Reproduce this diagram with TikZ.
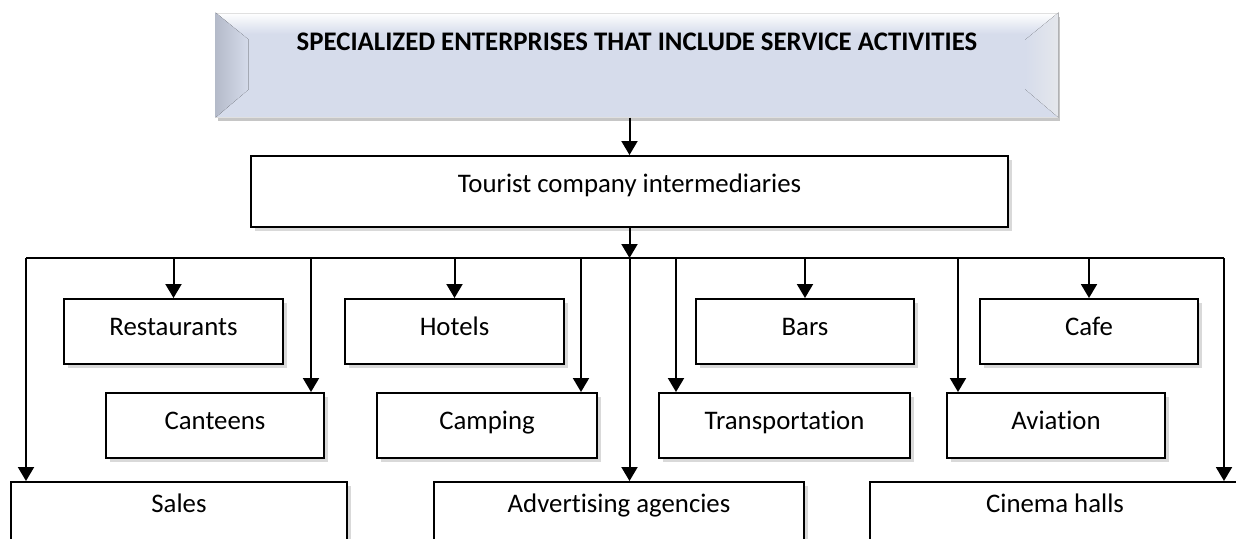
\documentclass[tikz,border=0pt]{standalone}
\usepackage{fontspec}
\setmainfont{Carlito}[Ligatures=NoCommon]
\usetikzlibrary{arrows.meta,shadows}
\definecolor{titlefill}{RGB}{214,220,235}
\definecolor{bevelgray}{RGB}{180,187,201}
\pgfdeclareverticalshading{titleshade}{100bp}{color(0bp)=(titlefill); color(25bp)=(titlefill); color(65bp)=(titlefill); color(75bp)=(white); color(100bp)=(white)}

\begin{document}
\begin{tikzpicture}[x=0.5pt,y=-0.5pt,>={Triangle[width=8pt,length=7pt]},line width=1pt,
  title/.style={shading=titleshade,draw=black!12,line width=0.5pt,minimum width=421pt,inner sep=0pt,text height=18.5pt,text depth=33.5pt,font=\fontsize{13.4}{16}\selectfont\bfseries,drop shadow={shadow xshift=1pt,shadow yshift=-2pt,opacity=0.45}},
  box/.style={draw,fill=white,inner sep=0pt,text height=18pt,text depth=14.5pt,font=\fontsize{13.4}{16}\selectfont,drop shadow={shadow xshift=2pt,shadow yshift=-2pt,opacity=0.3}},
  tall/.style={box,text height=18pt,text depth=17.5pt},
  cut/.style={box,text height=15pt,text depth=25pt}]
\clip (0,0) rectangle (1236,538);

\node[title] (T) at (637,65) {SPECIALIZED ENTERPRISES THAT INCLUDE SERVICE ACTIVITIES};
\fill[left color=bevelgray,right color=titlefill] (T.north west) -- ++(33,27) -- ++(0,50) -- (T.south west) -- cycle;
\fill[right color=bevelgray!35,left color=titlefill] (T.north east) -- ++(-33,27) -- ++(0,50) -- (T.south east) -- cycle;

\node[tall,minimum width=378.5pt] (I) at (629.5,191.5) {Tourist company intermediaries};

\node[box,minimum width=109.5pt] (R1) at (173.5,331.5) {Restaurants};
\node[box,minimum width=109.5pt] (R2) at (454.5,331.5) {Hotels};
\node[box,minimum width=109pt] (R3) at (805,331.5) {Bars};
\node[box,minimum width=109pt] (R4) at (1089,331.5) {Cafe};

\node[box,minimum width=109pt] (C1) at (215,425.5) {Canteens};
\node[box,minimum width=110pt] (C2) at (487,425.5) {Camping};
\node[box,minimum width=125.5pt] (C3) at (784.5,425.5) {Transportation};
\node[box,minimum width=109pt] (C4) at (1056,425.5) {Aviation};

\node[cut,minimum width=168pt] (S1) at (179,522) {Sales};
\node[cut,minimum width=185pt] (S2) at (619,522) {Advertising agencies};
\node[cut,minimum width=185pt] (S3) at (1055,522) {Cinema halls};

\coordinate (bus) at (629.5,258);
\coordinate (L) at (26,258);
\coordinate (R) at (1224,258);

\draw[->] (T.south -| I.north) -- (I.north);
\draw[->] (I.south) -- (bus);
\draw (L) -- (R);

\draw[->] (R1.north |- bus) -- (R1.north);
\draw[->] (R2.north |- bus) -- (R2.north);
\draw[->] (R3.north |- bus) -- (R3.north);
\draw[->] (R4.north |- bus) -- (R4.north);

\draw[->] ([xshift=-7pt]C1.north east |- bus) -- ([xshift=-7pt]C1.north east);
\draw[->] ([xshift=-8.5pt]C2.north east |- bus) -- ([xshift=-8.5pt]C2.north east);
\draw[->] ([xshift=9pt]C3.north west |- bus) -- ([xshift=9pt]C3.north west);
\draw[->] ([xshift=6pt]C4.north west |- bus) -- ([xshift=6pt]C4.north west);

\draw[->] (L) -- (L |- S1.north);
\draw[->] (bus) -- (bus |- S2.north);
\draw[->] (R) -- (R |- S3.north);
\end{tikzpicture}
\end{document}
